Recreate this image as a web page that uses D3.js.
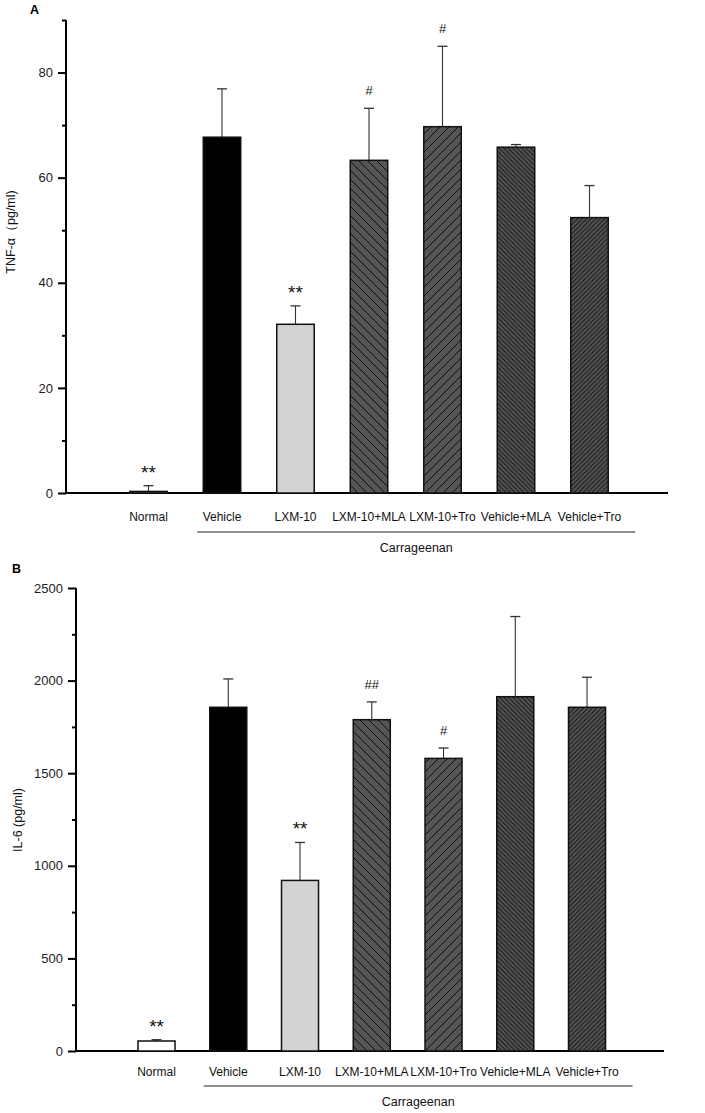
<!DOCTYPE html>
<html><head><meta charset="utf-8">
<script src="https://cdn.jsdelivr.net/npm/d3@7"></script>
<style>
body{margin:0;background:#fff;}
svg{display:block;font-family:Arial,"Liberation Sans",sans-serif;}
</style></head>
<body>
<svg id="c" width="705" height="1113"></svg>
<script>
const categories = ["Normal","Vehicle","LXM-10","LXM-10+MLA","LXM-10+Tro","Vehicle+MLA","Vehicle+Tro"];
const tnfMeans = [0.3, 67.7, 32.1, 63.3, 69.7, 65.8, 52.4];
const tnfErrTop = [1.4, 76.9, 35.6, 73.2, 85.0, 66.3, 58.5];
const tnfMarks = ["**","","**","#","#","",""];
const il6Means = [54, 1856, 921, 1789, 1580, 1913, 1856];
const il6ErrTop = [61, 2009, 1126, 1885, 1636, 2346, 2018];
const il6Marks = ["**","","**","##","#","",""];
const tnfMajor = [0,20,40,60,80], tnfMinor = [10,30,50,70,90];
const il6Major = [0,500,1000,1500,2000,2500], il6Minor = [250,750,1250,1750,2250];

const svg = d3.select("#c");
const defs = svg.append("defs");
function hatch(id, s, dir){
  const p = defs.append("pattern").attr("id",id).attr("patternUnits","userSpaceOnUse")
    .attr("width",s).attr("height",s);
  p.append("rect").attr("width",s).attr("height",s).attr("fill","#555");
  const d = dir==="back"
    ? `M0,0L${s},${s}M-1,${s-1}L1,${s+1}M${s-1},-1L${s+1},1`
    : `M0,${s}L${s},0M-1,1L1,-1M${s-1},${s+1}L${s+1},${s-1}`;
  p.append("path").attr("d",d).attr("stroke","#111").attr("stroke-width",1);
}
hatch("hWB",9,"back"); hatch("hWF",9,"fwd"); hatch("hNB",4.5,"back"); hatch("hNF",4.5,"fwd");
const fills = ["#ffffff","#000000","#d3d3d3","url(#hWB)","url(#hWF)","url(#hNB)","url(#hNF)"];

function panel(o){
  const g = svg.append("g");
  const y = d3.scaleLinear().domain(o.domain).range([o.y0,o.y1]);
  const x = d3.scaleBand().domain(categories).range([o.xs,o.xe]).paddingInner(o.pad).paddingOuter(o.pad/2);
  g.append("line").attr("x1",o.ax).attr("x2",o.xEnd).attr("y1",y(0)).attr("y2",y(0))
    .attr("stroke","#000").attr("stroke-width",1.8);
  categories.forEach((c,i)=>{
    const v = o.means[i], e = o.err[i];
    const cx = x(c)+x.bandwidth()/2;
    g.append("line").attr("x1",cx).attr("x2",cx).attr("y1",y(v)).attr("y2",y(e)).attr("stroke","#333").attr("stroke-width",1.1);
    g.append("line").attr("x1",cx-5).attr("x2",cx+5).attr("y1",y(e)).attr("y2",y(e)).attr("stroke","#333").attr("stroke-width",1.3);
    g.append("rect").attr("x",x(c)).attr("width",x.bandwidth()).attr("y",y(v)).attr("height",y(0)-y(v))
      .attr("fill",fills[i]).attr("stroke","#111").attr("stroke-width",1.5);
    if(o.marks[i]){
      const star = o.marks[i].startsWith("*");
      g.append("text").attr("x",cx).attr("y",star? y(e)-7 : y(e)-13).attr("text-anchor","middle")
        .attr("font-size",star?19:13).attr("fill","#111").text(o.marks[i]);
    }
  });
  const ya = g.append("g").attr("transform",`translate(${o.ax},0)`)
    .call(d3.axisLeft(y).tickValues(o.major).tickSize(8).tickPadding(5).tickFormat(d3.format("d")));
  ya.select(".domain").remove();
  ya.selectAll(".tick line").attr("stroke","#000").attr("stroke-width",2);
  ya.selectAll("text").attr("font-size",13).attr("fill","#222").style("font-family","Arial,'Liberation Sans',sans-serif");
  const ym = g.append("g").attr("transform",`translate(${o.ax},0)`)
    .call(d3.axisLeft(y).tickValues(o.minor).tickSize(4).tickFormat(""));
  ym.select(".domain").remove();
  ym.selectAll(".tick line").attr("stroke","#000").attr("stroke-width",2);
  g.append("line").attr("x1",o.ax).attr("x2",o.ax).attr("y1",y(0)+0.9).attr("y2",o.y1)
    .attr("stroke","#000").attr("stroke-width",2);
  categories.forEach(c=>{
    g.append("text").attr("x",x(c)+x.bandwidth()/2).attr("y",o.labY).attr("text-anchor","middle")
      .attr("font-size",12).attr("fill","#111").text(c);
  });
  const ul0 = x("Vehicle")-6, ul1 = x("Vehicle+Tro")+x.bandwidth()+27;
  g.append("line").attr("x1",ul0).attr("x2",ul1).attr("y1",o.ulY).attr("y2",o.ulY).attr("stroke","#222").attr("stroke-width",1);
  g.append("text").attr("x",(ul0+ul1)/2).attr("y",o.ulY+20).attr("text-anchor","middle")
    .attr("font-size",12.5).attr("fill","#111").text("Carrageenan");
  g.append("text").attr("transform",`translate(${o.ylx},${o.yly}) rotate(-90)`).attr("text-anchor","middle")
    .attr("font-size",12.5).attr("fill","#111").text(o.ylabel);
  g.append("text").attr("x",o.px).attr("y",o.py).attr("font-size",12.5).attr("font-weight","bold").text(o.panel);
}

panel({domain:[0,90],y0:493,y1:20,xs:111.75,xe:626.25,pad:0.49,ax:66,xEnd:668,
  means:tnfMeans,err:tnfErrTop,marks:tnfMarks,major:tnfMajor,minor:tnfMinor,
  labY:521,ulY:532,ylabel:"TNF-α（pg/ml)",ylx:15,yly:232,panel:"A",px:30,py:14});
panel({domain:[0,2500],y0:1051,y1:588,xs:120.65,xe:622.9,pad:0.484,ax:76,xEnd:664,
  means:il6Means,err:il6ErrTop,marks:il6Marks,major:il6Major,minor:il6Minor,
  labY:1076,ulY:1086,ylabel:"IL-6 (pg/ml)",ylx:22,yly:820,panel:"B",px:12,py:573});
</script>
</body></html>
